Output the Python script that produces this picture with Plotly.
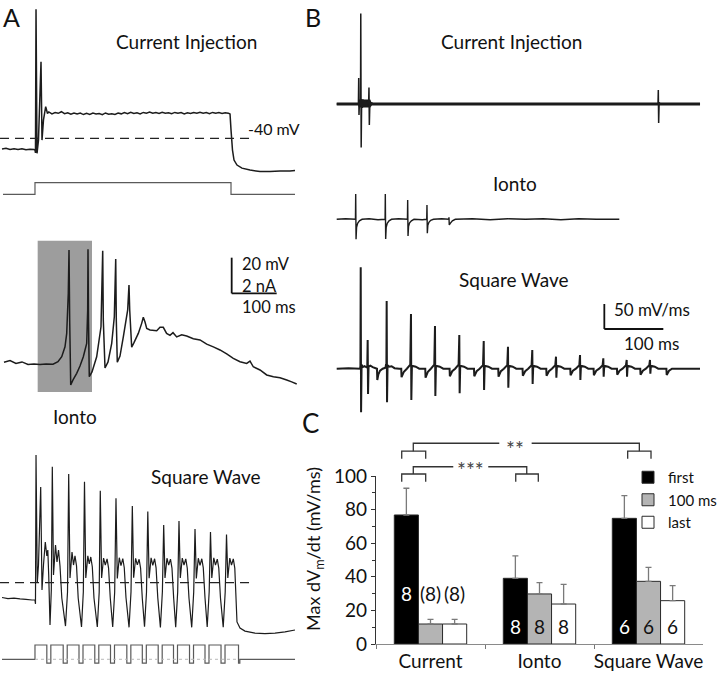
import plotly.graph_objects as go

W, H = 720, 674

# ---------------- Panel A: membrane potential (mV) vs time (ms) ----------------
# A1 Current injection
tA1_ms = [0, 8.9, 17.8, 26.7, 35.6, 44.4, 53.3, 62.2, 71.1, 73.3, 74.4, 75.6, 77.8, 81.1, 86.7, 88.9, 92.2, 97.1, 101.1,
          104, 111, 118, 125, 132, 139, 146, 153, 160, 167, 174, 181, 188, 195, 202, 209, 216, 223, 230, 237, 244, 251,
          258, 265, 272, 279, 286, 293, 300, 307, 314, 321, 328, 335, 342, 349, 356, 363, 370, 377, 384, 391, 398, 405,
          412, 419, 426, 433, 440, 447, 454, 461, 468, 475, 482, 489, 496, 503,
          506.7, 508.9, 512.2, 515.6, 522.2, 533.3, 551.1, 573.3, 595.6, 617.8, 640, 651.1]
vA1_mV = [-46.0, -45.6, -46.3, -45.8, -46.3, -45.9, -46.4, -46.1, -46.3, -46.6, -48.2, 32.3, -48.4, -41.0, 2.9, -41.0, -29.7, -22.3, -26.1,
          -25.2, -26.3, -25.6, -26.0, -25.1, -26.2, -25.7, -26.5, -25.8, -26.4, -25.9, -26.7, -26.0, -26.6, -25.9, -26.4,
          -26.1, -26.8, -25.8, -26.5, -26.2, -26.6, -25.9, -26.3, -25.6, -26.2, -25.4, -26.1, -25.7, -26.3, -25.5, -25.9,
          -25.3, -26.0, -25.6, -26.1, -25.4, -25.9, -25.7, -26.2, -25.5, -26.0, -25.6, -26.3, -25.7, -26.1, -25.5, -26.0,
          -25.4, -25.9, -25.6, -26.2, -25.5, -25.9, -25.6, -26.1, -25.7, -25.9,
          -26.4, -35.3, -46.6, -52.2, -55.0, -56.7, -57.8, -58.6, -58.6, -58.3, -58.3, -58.0]
tI1_ms = [2.2, 73.3, 73.3, 508.9, 508.9, 651.1]
I1_nA = [0, 0, 0.65, 0.65, 0, 0]

# A2 Ionto
tA2_ms = [4.4, 17.8, 31.1, 44.4, 57.8, 71.1, 84.4, 97.8, 113.3, 124.4, 132.7, 140, 143.8, 147.3, 148.9, 150.4, 152.7,
          157.8, 166, 173.3, 180.7, 188.2, 190.4, 191.1, 192.2, 194, 200, 210.4, 220, 223.8, 225.1, 228.9, 235.6, 243.8,
          249.6, 252.7, 254.0, 256.2, 262.2, 269.6, 279.3, 282.2, 283.8, 288.2, 293.3, 302.9, 310.4, 314, 317.8, 321.6,
          328.9, 343.8, 351.1, 358.4, 365.8, 373.3, 380, 388.2, 399.3, 410.4, 425.1, 440, 454.9, 469.6, 484.4, 499.3,
          514, 528.9, 543.8, 551.1, 558.4, 573.3, 588.2, 603.1, 617.8, 632.7, 643.8, 654.9]
vA2_mV = [-59.6, -58.6, -60.3, -59.4, -60.8, -60.6, -60.8, -60.6, -60.7, -59.3, -56.5, -50.9, -43.4, -20.9, 3.3, -35.9,
          -72.3, -69.5, -65.8, -61.7, -56.5, -49.0, -30.3, 3.7, -35.9, -67.7, -65.0, -56.5, -39.7, 2.9, -35.9, -62.8,
          -59.4, -49.0, -34.1, -1.7, -35.9, -59.6, -56.1, -45.3, -30.3, -16.3, -30.3, -51.2, -48.6, -43.4, -37.8, -34.4,
          -37.0, -40.6, -41.5, -41.9, -40.0, -40.0, -43.4, -44.5, -43.0, -45.4, -44.2, -44.9, -46.4, -47.1, -49.4, -51.0,
          -52.7, -54.9, -57.4, -59.3, -60.2, -58.9, -62.1, -63.9, -66.7, -67.7, -68.3, -69.5, -70.6, -71.8]
ionto_on_ms, ionto_off_ms = 79.3, 200.0

# A3 Square wave
tA3_ms = [0, 13.3, 26.7, 40, 53.3, 66.7, 73.3, 74.4, 75.6, 78.4, 81.1, 86.0, 88.9, 92.2, 96.2, 99.6, 101.8, 103.8, 106.7, 109.6, 111.8,
          114.4, 118.9, 122.2, 125.6, 128.9, 132.9, 141.1, 145.6, 148.2,
          151.1, 155.6, 158.9, 162.2, 165.6, 169.3, 176.7, 180.7, 183.3,
          186.2, 190.7, 194.0, 197.3, 200.7, 204.4, 211.8, 216.0, 218.4,
          221.3, 225.7, 229.5, 233.5, 236.8, 240.6, 246.0, 250.4, 253.3,
          256.2, 260.6, 264.4, 268.4, 271.7, 275.5, 282.3, 286.7, 289.6,
          292.5, 296.9, 300.7, 304.7, 308.0, 311.8, 316.7, 321.1, 324.0,
          326.9, 331.3, 335.1, 339.1, 342.4, 346.2, 352.0, 356.4, 359.3,
          362.2, 366.6, 370.4, 374.4, 377.7, 381.5, 386.0, 390.4, 393.3,
          396.2, 400.6, 404.4, 408.4, 411.7, 415.5, 421.6, 426.0, 428.9,
          431.8, 436.2, 440.0, 444.0, 447.3, 451.1, 456.0, 460.4, 463.3,
          466.2, 470.6, 474.4, 478.4, 481.7, 485.5, 491.6, 496.0, 498.9,
          501.8, 506.2, 510.0, 514.0, 517.3, 522.2, 528.9, 540.0, 562.2, 584.4, 606.7, 628.9, 651.1]
vA3_mV = [-48.3, -48.9, -48.6, -49.1, -49.3, -49.7, -49.7, -51.9, 31.5, -40.2, -30.1, 13.6, -44.1, -30.1, -17.2, -25.0, -21.7, -35.7, -63.7, -44.1, 25.0,
          -35.7, -18.9, -28.4, -21.7, -30.6, -48.6, -64.3, -45.2, 20.9,
          -37.4, -22.8, -30.1, -25.0, -30.6, -48.6, -64.8, -45.2, 16.6,
          -37.4, -25.0, -29.5, -25.6, -31.2, -48.6, -64.8, -45.2, 11.5,
          -37.4, -26.2, -30.1, -26.7, -31.8, -48.6, -64.8, -45.2, 7.3,
          -37.6, -26.0, -30.4, -26.5, -31.6, -48.3, -65.0, -45.0, 3.0,
          -37.2, -26.4, -30.0, -26.9, -31.9, -48.8, -64.6, -45.3, -0.1,
          -37.5, -26.1, -30.3, -26.6, -31.7, -48.5, -65.1, -45.1, -7.7,
          -37.3, -26.3, -30.2, -26.8, -31.8, -48.7, -64.9, -45.2, -5.4,
          -37.4, -26.2, -30.1, -26.7, -31.9, -48.6, -65.0, -45.4, -9.9,
          -37.6, -26.3, -30.3, -26.6, -31.7, -48.4, -64.8, -45.1, -11.6,
          -37.4, -26.1, -30.2, -26.8, -31.8, -48.6, -64.9, -45.2, -13.0,
          -37.4, -26.2, -30.1, -26.7, -31.8, -62.0, -65.4, -67.1, -68.2, -68.5, -68.2, -67.6, -66.5]
tI3_ms = [0, 73.3, 73.3, 99.6, 99.6, 108.5, 108.5, 136.0, 136.0, 144.9, 144.9, 171.1, 171.1, 180.0, 180.0, 206.2,
          206.2, 215.1, 215.1, 241.1, 241.1, 250.0, 250.0, 277.4, 277.4, 286.3, 286.3, 311.8, 311.8, 320.7, 320.7,
          347.1, 347.1, 356.0, 356.0, 381.1, 381.1, 390.0, 390.0, 416.7, 416.7, 425.6, 425.6, 451.1, 451.1, 460.0,
          460.0, 486.7, 486.7, 495.6, 495.6, 525.6, 525.6, 528.5, 528.5, 651.1]
I3_nA = [0, 0, 0.8, 0.8, -0.21, -0.21, 0.8, 0.8, -0.21, -0.21, 0.8, 0.8, -0.21, -0.21, 0.8, 0.8,
         -0.21, -0.21, 0.8, 0.8, -0.21, -0.21, 0.8, 0.8, -0.21, -0.21, 0.8, 0.8, -0.21, -0.21, 0.8,
         0.8, -0.21, -0.21, 0.8, 0.8, -0.21, -0.21, 0.8, 0.8, -0.21, -0.21, 0.8, 0.8, -0.21, -0.21,
         0.8, 0.8, -0.21, -0.21, 0.8, 0.8, -0.21, -0.21, 0, 0]

# ---------------- Panel B: dV/dt (mV/ms) vs time (ms) ----------------
tB1_ms = [0, 36.8, 37.3, 37.8, 38.6, 39.8, 40.4, 40.8, 41.5, 42.3, 43.5, 45, 46.5, 48, 50, 52, 54.1, 54.7, 55.3,
          56.3, 57.5, 59, 61, 544.6, 545.1, 545.7, 546.5, 548, 615.8]
dB1 = [0, 0, 52, -22, 6, -4, 0, 181, -87, 10, -8, 9, -6, 7, -5, 5, 0, 33, -42, 6, -4, 3, 0, 0, 28, -38, 3, 0, 0]
noiseB1_t = [0, 36.5, 38, 57, 59, 615.8]
noiseB1_hi = [3.2, 3.2, 9, 9, 3.2, 3.2]
noiseB1_lo = [-3.2, -3.2, -7, -7, -3.2, -3.2]

tB2_ms = [0, 15, 31.8, 32.2, 32.8, 33.7, 35.5, 38.5, 43, 55, 70, 82.0, 82.4, 83.0, 83.9, 85.7, 88.7, 93, 105,
          119.9, 120.3, 120.9, 121.8, 123.6, 126.6, 131, 145, 152.6, 153.0, 153.6, 154.5, 156.3, 159.3, 164, 178,
          189.8, 190.3, 190.8, 192.5, 196, 201, 230, 260, 290, 320, 350, 380, 410, 440, 479]
dB2 = [0, 1, 0, 50.6, -40, -16, -8, -3, 0, 1, -1, 0, 50.6, -39.4, -16, -8, -3, 0, 1,
       0, 38.6, -33.4, -14, -7, -3, 0, -1, 0, 28.6, -28, -12, -6, -2, 0, 1,
       0, 4, -11.4, -8, -3, 0, 1, -1, 1, 0, 1, -1, 1, 0, 0]

tB3_ms = [0, 20, 39.8, 40.2, 40.7, 41.3, 42.2, 44, 47, 51.8, 52.5, 53.1, 54, 57, 61, 66, 68.3, 68.8, 70.5, 73.5, 78,
          82.7, 83.7, 84.2, 84.7, 85.3, 86.2, 89, 93, 98, 106,
          109.4, 109.9, 113.9, 118.9, 124.7, 125.9, 126.5, 127.5, 133.9, 139.9,
          150.1, 150.6, 154.6, 159.6, 165.4, 166.6, 167.2, 168.2, 174.6, 180.6,
          191.3, 191.8, 195.8, 200.8, 206.6, 207.8, 208.4, 209.4, 215.8, 221.8,
          232.7, 233.2, 237.2, 242.2, 248.0, 249.2, 249.8, 250.8, 257.2, 263.2,
          273.8, 274.3, 278.3, 283.3, 289.1, 290.3, 290.9, 291.9, 298.3, 304.3,
          315.0, 315.5, 319.5, 324.5, 330.3, 331.5, 332.1, 333.1, 339.5, 345.5,
          355.2, 355.7, 359.7, 364.7, 370.5, 371.7, 372.3, 373.3, 379.7, 385.7,
          395.9, 396.4, 400.4, 405.4, 411.2, 412.4, 413.0, 414.0, 420.4, 426.4,
          435.4, 435.9, 439.9, 444.9, 450.7, 451.9, 452.5, 453.5, 459.9, 465.9,
          475.0, 475.5, 479.5, 484.5, 490.3, 491.5, 492.1, 493.1, 499.5, 505.5,
          514.5, 515.0, 519.0, 524.0, 529.8, 531.0, 531.6, 532.6, 539.0, 545.0,
          558.8, 559.3, 563.3, 568.3, 615.8]
dB3 = [0, 1, 0, 6, 202.8, -87.2, 8, 3, 5, 2, 57.4, -50.6, 4, 6, 3, 1, 0, -22.6, -12, -4, 0,
       2, 9, 6, 135.4, -67.2, 7, 4, 5, 1, 0,
       0, -17, -6, 0, 8, 109.4, -62.6, 6, 4, 0,
       0, -18, -6, 0, 8, 85.4, -54.6, 6, 4, 0,
       0, -15, -5, 0, 8, 67.4, -49.2, 6, 4, 0,
       0, -15, -5, 0, 7, 55.4, -42.6, 6, 4, 0,
       0, -16, -5, 0, 7, 44.0, -38.0, 6, 4, 0,
       0, -14, -5, 0, 7, 37.4, -30.6, 6, 4, 0,
       0, -14, -5, 0, 7, 24.0, -18.0, 6, 4, 0,
       0, -13, -4, 0, 7, 27.4, -22.6, 6, 4, 0,
       0, -13, -4, 0, 7, 20.8, -16.0, 6, 4, 0,
       0, -12, -4, 0, 7, 17.4, -16.0, 6, 4, 0,
       0, -12, -4, 0, 7, 17.4, -10.0, 6, 4, 0,
       0, -12.6, -4, 0, 0]

# ---------------- Panel C: bar chart ----------------
categories = ["Current", "Ionto", "Square Wave"]
series_names = ["first", "100 ms", "last"]
first_vals = [76.8, 39.1, 74.8]
first_err = [15.9, 13.3, 13.5]
ms100_vals = [11.9, 29.8, 37.3]
ms100_err = [2.8, 6.7, 8.3]
last_vals = [11.9, 23.8, 25.8]
last_err = [2.8, 11.7, 8.9]
n_first = ["8", "8", "6"]
n_ms100 = ["(8)", "8", "6"]
n_last = ["(8)", "8", "6"]

for a, b in [(tA1_ms, vA1_mV), (tI1_ms, I1_nA), (tA2_ms, vA2_mV), (tA3_ms, vA3_mV), (tI3_ms, I3_nA),
             (tB1_ms, dB1), (tB2_ms, dB2), (tB3_ms, dB3)]:
    assert len(a) == len(b), (len(a), len(b))

TRACE = '#1c1c1c'
CURR = '#5a5a5a'
FONT = 'Lato'

fig = go.Figure()


def line(x, y, xa, ya, color=TRACE, width=1.4):
    fig.add_trace(go.Scatter(x=x, y=y, xaxis=xa, yaxis=ya, mode='lines',
                             line=dict(color=color, width=width, simplify=False),
                             showlegend=False, hoverinfo='skip'))


line(tA1_ms, vA1_mV, 'x', 'y', width=1.5)
line(tI1_ms, I1_nA, 'x', 'y2', color=CURR, width=1.2)
line(tA2_ms, vA2_mV, 'x', 'y3', width=1.5)
line(tA3_ms, vA3_mV, 'x', 'y4', width=1.2)
line(tI3_ms, I3_nA, 'x', 'y5', color=CURR, width=1.2)

# B1 noise band + trace
fig.add_trace(go.Scatter(x=noiseB1_t + noiseB1_t[::-1], y=noiseB1_hi + noiseB1_lo[::-1], xaxis='x2', yaxis='y6',
                         mode='lines', fill='toself', fillcolor='#1a1a1a', line=dict(width=0),
                         showlegend=False, hoverinfo='skip'))
line(tB1_ms, dB1, 'x2', 'y6', width=1.5)
line(tB2_ms, dB2, 'x2', 'y7', width=1.4)
line(tB3_ms, dB3, 'x2', 'y8', width=2.0)

# Bars
bar_fill = ['#000000', '#b4b4b4', '#ffffff']
for name, vals, errs, fc in zip(series_names, [first_vals, ms100_vals, last_vals],
                                [first_err, ms100_err, last_err], bar_fill):
    fig.add_trace(go.Bar(name=name, x=categories, y=vals, xaxis='x3', yaxis='y9',
                         marker=dict(color=fc, line=dict(color='#2a2a2a', width=1)),
                         error_y=dict(type='data', symmetric=False, array=errs, arrayminus=[0] * len(errs),
                                      color='#7a7a7a', thickness=1.3, width=3),
                         hoverinfo='skip'))

# significance brackets (category units / value units); gaps leave room for the stars
br_x = [-0.264, -0.264, -0.044, -0.044, None, -0.158, -0.158, 0.631, None, 0.928, 1.916, 1.916, None,
        1.809, 1.809, 2.023, 2.023, None,
        -0.264, -0.264, -0.044, -0.044, None, -0.158, -0.158, 0.209, None, 0.530, 0.883, 0.883, None,
        0.782, 0.782, 0.989, 0.989]
br_y = [110.3, 114.8, 114.8, 110.3, None, 114.8, 119.5, 119.5, None, 119.5, 119.5, 114.8, None,
        110.3, 114.8, 114.8, 110.3, None,
        96.6, 101.2, 101.2, 96.6, None, 101.2, 105.5, 105.5, None, 105.5, 105.5, 101.2, None,
        96.6, 101.2, 101.2, 96.6]
fig.add_trace(go.Scatter(x=br_x, y=br_y, xaxis='x4', yaxis='y10', mode='lines',
                         line=dict(color='#333333', width=1.3), showlegend=False, hoverinfo='skip'))

# ---------------- Layout / axes ----------------
hid = dict(visible=False, fixedrange=True, showgrid=False, zeroline=False, automargin=False)
layout = dict(
    width=W, height=H, autosize=False, margin=dict(l=0, r=0, t=0, b=0, pad=0, autoexpand=False),
    paper_bgcolor='white', plot_bgcolor='rgba(0,0,0,0)',
    font=dict(family=FONT, color='#111111'),
    barmode='group', bargap=0.336, bargroupgap=0,
    xaxis=dict(domain=[0, 300 / W], range=[-4.444, 662.22], anchor='y', **hid),
    xaxis2=dict(domain=[300 / W, 1], range=[-62.2, 649.66], anchor='y6', **hid),
    yaxis=dict(domain=[0, 1], range=[-340.11, 37.48], anchor='x', **hid),
    yaxis2=dict(domain=[0, 1], range=[-26.874, 10.885], anchor='x', **hid),
    yaxis3=dict(domain=[0, 1], range=[-234.23, 143.36], anchor='x', **hid),
    yaxis4=dict(domain=[0, 1], range=[-91.15, 286.44], anchor='x', **hid),
    yaxis5=dict(domain=[0, 1], range=[-0.824, 36.935], anchor='x', **hid),
    yaxis6=dict(domain=[0, 1], range=[-1140, 208], anchor='x2', **hid),
    yaxis7=dict(domain=[0, 1], range=[-909.4, 438.6], anchor='x2', **hid),
    yaxis8=dict(domain=[0, 1], range=[-610.6, 737.4], anchor='x2', **hid),
    xaxis3=dict(domain=[376 / W, 703 / W], anchor='y9', type='category', categoryorder='array',
                categoryarray=categories, tickson='boundaries', ticks='outside', ticklen=4,
                tickcolor='#777', showline=True, linecolor='#8a8a8a', linewidth=1.2, tickangle=0,
                automargin=False, tickfont=dict(size=19, color='#111'), showgrid=False, fixedrange=True),
    yaxis9=dict(domain=[30 / H, 198 / H], range=[0, 100], anchor='x3', tickvals=[0, 20, 40, 60, 80, 100],
                ticks='outside', ticklen=4, tickcolor='#333', showline=True, linecolor='#333', linewidth=1.2,
                minor=dict(tickvals=[10, 30, 50, 70, 90], ticks='outside', ticklen=3, tickcolor='#333'),
                automargin=False, tickfont=dict(size=19, color='#111'), showgrid=False, zeroline=False,
                fixedrange=True),
    xaxis4=dict(domain=[376 / W, 703 / W], range=[-0.5, 2.5], anchor='y10', **hid),
    yaxis10=dict(domain=[30 / H, 240 / H], range=[0, 125], anchor='x4', **hid),
    legend=dict(x=628 / W, xanchor='left', y=1 - 461 / H, yanchor='top', font=dict(size=15),
                bgcolor='rgba(0,0,0,0)', traceorder='normal', itemclick=False),
)
fig.update_layout(**layout)

# ---------------- Shapes ----------------
shapes = [
    # iontophoresis period box
    dict(type='rect', xref='x', yref='y3', x0=ionto_on_ms, x1=ionto_off_ms, y0=-76.2, y1=8.5,
         fillcolor='#9d9d9d', line=dict(width=0), layer='below'),
    # -40 mV reference lines
    dict(type='line', xref='x', yref='y', x0=-4.4, x1=562, y0=-40, y1=-40,
         line=dict(color='#222', width=1.3, dash='9px,6px')),
    dict(type='line', xref='x', yref='y4', x0=-4.4, x1=562, y0=-40, y1=-40,
         line=dict(color='#222', width=1.3, dash='9px,6px')),
    # zero-current reference under square wave
    dict(type='line', xref='x', yref='y5', x0=73.3, x1=525.6, y0=0, y1=0,
         line=dict(color='#b8b8b8', width=1, dash='3px,3px')),
    # A scale bar: 20 mV / 2 nA, 100 ms
    dict(type='line', xref='x', yref='y3', x0=510.4, x1=510.4, y0=-21, y1=-1,
         line=dict(color='#111', width=1.8)),
    dict(type='line', xref='x', yref='y3', x0=510.4, x1=610.4, y0=-21, y1=-21,
         line=dict(color='#111', width=1.8)),
    # B scale bar: 50 mV/ms, 100 ms
    dict(type='line', xref='x2', yref='y8', x0=453.6, x1=453.6, y0=79.4, y1=129.4,
         line=dict(color='#111', width=1.8)),
    dict(type='line', xref='x2', yref='y8', x0=453.6, x1=553.6, y0=79.4, y1=79.4,
         line=dict(color='#111', width=1.8)),
]
fig.update_layout(shapes=shapes)


# ---------------- Annotations ----------------
def txt(text, x, y, size=18, xanchor='center', color='#111', yanchor='middle', **kw):
    return dict(text=text, x=x / W, y=1 - y / H, xref='paper', yref='paper', showarrow=False,
                xanchor=xanchor, yanchor=yanchor, font=dict(size=size, color=color, family=FONT), **kw)


ann = [
    txt('A', 1, 0, 25, 'left', yanchor='top'),
    txt('B', 303, 0, 25, 'left', yanchor='top'),
    txt('C', 300, 423, 26, 'left'),
    txt('Current Injection', 186.7, 41, 19),
    txt('-40 mV', 274, 128, 16),
    txt('Ionto', 75, 416, 19),
    txt('Square Wave', 206, 477, 19),
    txt('20 mV', 240, 264, 16.5, 'left'),
    txt('2 nA', 240, 286, 16.5, 'left'),
    txt('100 ms', 240, 307, 16.5, 'left'),
    txt('Current Injection', 511.7, 41, 19),
    txt('Ionto', 515, 183, 19),
    txt('Square Wave', 514, 279, 19),
    txt('50 mV/ms', 651.7, 309, 17),
    txt('100 ms', 651, 343, 17),
    txt('Max dV<sub>m</sub>/dt (mV/ms)', 314, 549, 18, textangle=-90),
]
# significance stars
ann.append(dict(text='**', x=0.775, y=116.2, xref='x4', yref='y10', showarrow=False,
                font=dict(size=21, color='#444', family=FONT)))
ann.append(dict(text='***', x=0.37, y=103.6, xref='x4', yref='y10', showarrow=False,
                font=dict(size=21, color='#444', family=FONT)))
# n labels inside / above bars
bw = (1 - 0.336) / 3
for k, (labels, col) in enumerate([(n_first, 'white'), (n_ms100, '#111'), (n_last, '#111')]):
    for i, lab in enumerate(labels):
        ypos = 30 if i == 0 else 10.5
        ann.append(dict(text=lab, x=i + (k - 1) * bw, y=ypos, xref='x3', yref='y9', showarrow=False,
                        font=dict(size=19, color=col, family=FONT)))
fig.update_layout(annotations=ann)

fig.write_html("out.html", config={'displayModeBar': False},
               post_script="document.body.style.margin='0px';document.body.style.padding='0px';")
